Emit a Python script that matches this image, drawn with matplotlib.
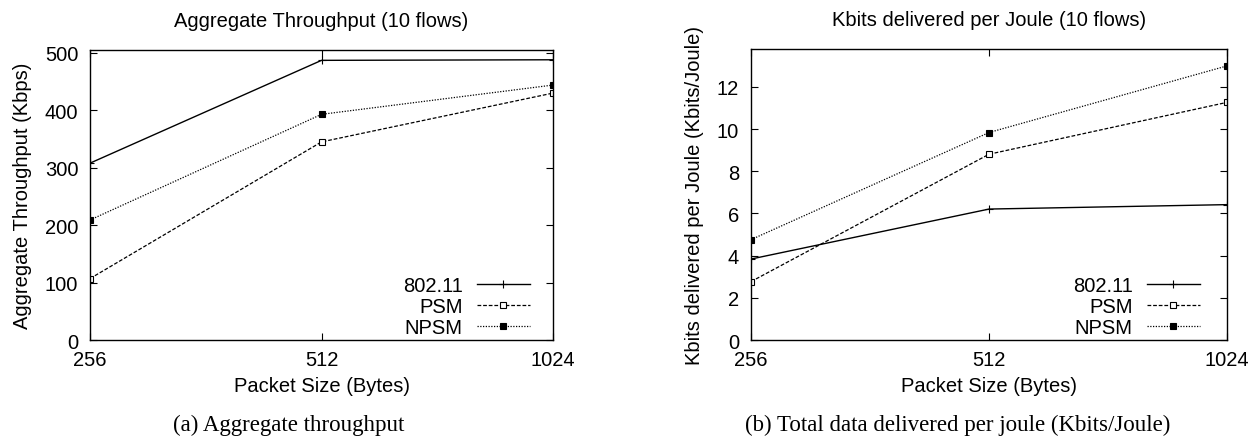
import matplotlib
matplotlib.use('Agg')
import matplotlib.pyplot as plt

# data
packet_sizes = [256, 512, 1024]
size_labels = ['256', '512', '1024']
series_names = ['802.11', 'PSM', 'NPSM']

thr_80211 = [308, 487, 488]
thr_psm = [107, 345, 430]
thr_npsm = [209, 393, 444]

kbj_80211 = [3.84, 6.21, 6.42]
kbj_psm = [2.77, 8.81, 11.27]
kbj_npsm = [4.76, 9.84, 13.0]

styles = [
    dict(color='black', linestyle='-', linewidth=1.0, marker='+', markersize=6, markeredgewidth=0.8),
    dict(color='black', linestyle=(0, (3, 1.5)), linewidth=0.9, marker='s', markersize=4,
         markerfacecolor='white', markeredgewidth=0.8),
    dict(color='black', linestyle=(0, (1, 1.2)), linewidth=0.9, marker='s', markersize=4.5,
         markerfacecolor='black', markeredgewidth=0.8),
]

plt.rcParams['font.family'] = ['Liberation Sans', 'DejaVu Sans']
FS = 14.5

fig = plt.figure(figsize=(12.54, 4.39), dpi=100)
ax1 = fig.add_axes([0.0718, 0.2232, 0.3692, 0.6606])
ax2 = fig.add_axes([0.5989, 0.2232, 0.3796, 0.6629])


def setup(ax, series, ylim, yticks, title, ylabel, leg_x):
    for vals, name, st in zip(series, series_names, styles):
        ax.plot(packet_sizes, vals, label=name, **st)
    ax.set_xscale('log', base=2)
    ax.set_xlim(packet_sizes[0], packet_sizes[-1])
    ax.set_xticks(packet_sizes)
    ax.set_xticklabels(size_labels)
    ax.minorticks_off()
    ax.set_ylim(*ylim)
    ax.set_yticks(yticks)
    ax.tick_params(direction='in', top=True, right=True, length=5, width=0.8,
                   labelsize=FS)
    ax.tick_params(axis='y', pad=8.5)
    ax.tick_params(axis='x', pad=7)
    for s in ax.spines.values():
        s.set_linewidth(1.0)
    ax.set_title(title, fontsize=FS, pad=17.5)
    ax.set_xlabel('Packet Size (Bytes)', fontsize=FS, labelpad=5)
    ax.set_ylabel(ylabel, fontsize=FS, labelpad=9)
    ax.legend(loc='lower right', bbox_to_anchor=(leg_x, 0.009), markerfirst=False,
              frameon=False, fontsize=FS, handlelength=2.63, handletextpad=0.7,
              labelspacing=0.1, borderaxespad=0, borderpad=0)


setup(ax1, [thr_80211, thr_psm, thr_npsm], (0, 505), [0, 100, 200, 300, 400, 500],
      'Aggregate Throughput (10 flows)', 'Aggregate Throughput (Kbps)', 0.950)
setup(ax2, [kbj_80211, kbj_psm, kbj_npsm], (0, 13.8), [0, 2, 4, 6, 8, 10, 12],
      'Kbits delivered per Joule (10 flows)', 'Kbits delivered per Joule (Kbits/Joule)', 0.943)

serif = ['Liberation Serif', 'DejaVu Serif']
fig.text(0.138, 0.032, '(a) Aggregate throughput', ha='left', va='center',
         fontsize=16.5, family=serif)
fig.text(0.594, 0.032, '(b) Total data delivered per joule (Kbits/Joule)', ha='left',
         va='center', fontsize=16.5, family=serif)

fig.savefig('out.png', dpi=100)
